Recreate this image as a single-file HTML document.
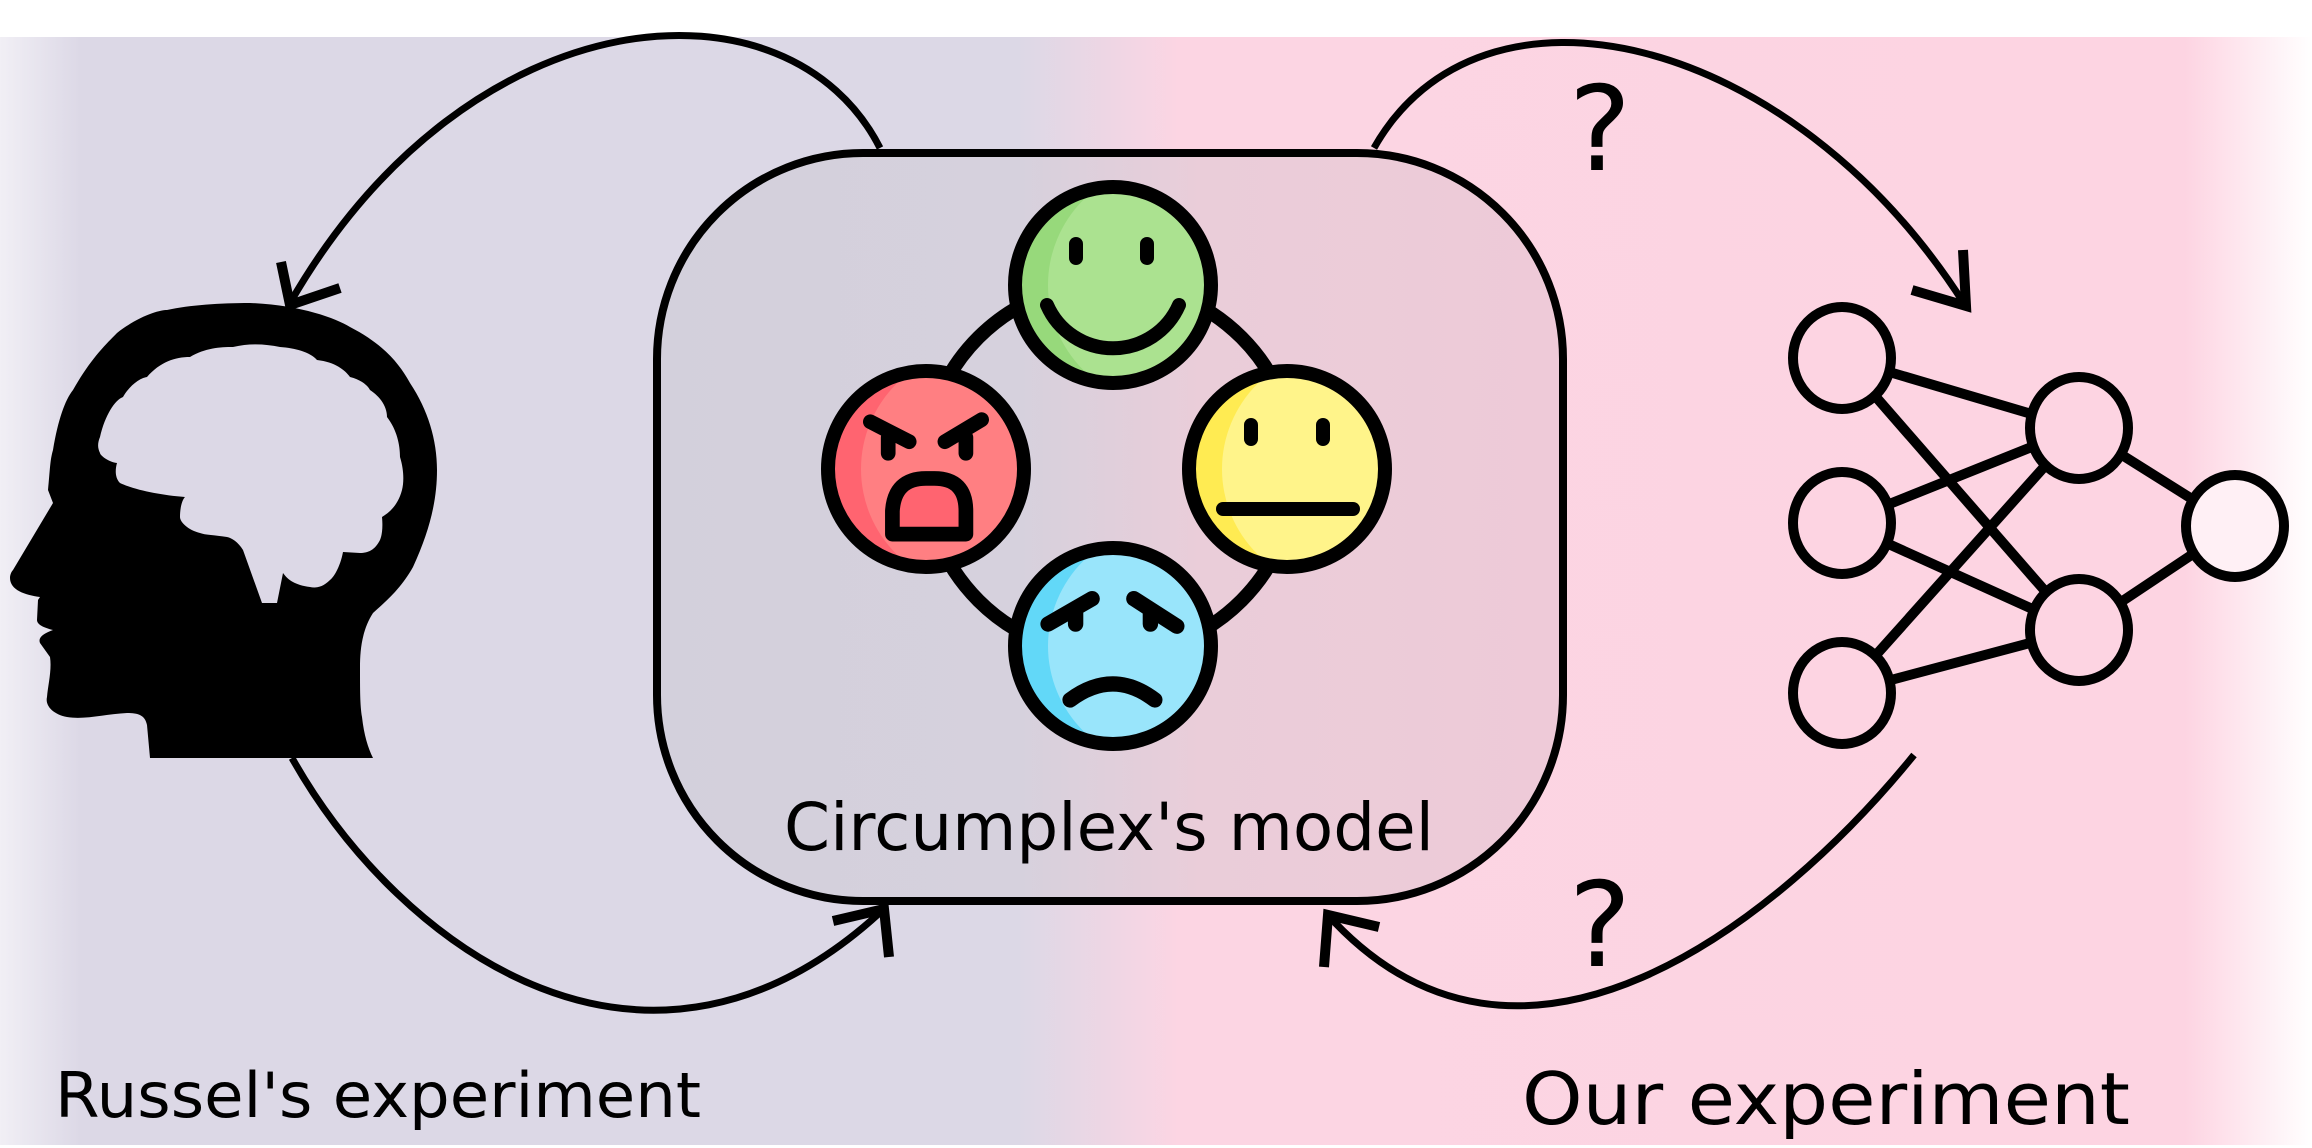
<!DOCTYPE html>
<html><head><meta charset="utf-8"><style>
html,body{margin:0;padding:0;background:#fff;}
svg{display:block;}
text{font-family:"DejaVu Sans","Liberation Sans",sans-serif;fill:#000;}
</style></head><body>
<svg width="2312" height="1148" viewBox="0 0 2312 1148" xmlns="http://www.w3.org/2000/svg">
<defs>
<linearGradient id="bg" x1="0" y1="0" x2="1" y2="0">
<stop offset="0" stop-color="#f1eff5"/>
<stop offset="0.035" stop-color="#dcd8e6"/>
<stop offset="0.44" stop-color="#dcd8e6"/>
<stop offset="0.51" stop-color="#fcd5e3"/>
<stop offset="0.945" stop-color="#fdd4e2"/>
<stop offset="1" stop-color="#ffffff"/>
</linearGradient>
<linearGradient id="boxg" x1="0" y1="0" x2="1" y2="0">
<stop offset="0" stop-color="#d3d0dc"/>
<stop offset="0.4" stop-color="#d6d1dd"/>
<stop offset="0.6" stop-color="#eacdd9"/>
<stop offset="1" stop-color="#eecad8"/>
</linearGradient>
<clipPath id="c"><circle cx="0" cy="0" r="98"/></clipPath>
</defs>
<rect x="0" y="37" width="2312" height="1108" fill="url(#bg)"/>

<!-- box -->
<rect x="657" y="153" width="906" height="748" rx="206" ry="206" fill="url(#boxg)" stroke="#000" stroke-width="8"/>

<!-- ring -->
<circle cx="1110" cy="469" r="186" fill="none" stroke="#000" stroke-width="14"/>

<g stroke="#000" stroke-width="14" stroke-linecap="round" stroke-linejoin="round">
<g transform="translate(1113,285)">
<g clip-path="url(#c)"><circle r="98" fill="#97d97b" stroke="none"/><circle cx="55" r="120" fill="#abe290" stroke="none"/></g>
<circle r="98" fill="none"/>
<line x1="-37" y1="-41" x2="-37" y2="-27"/><line x1="34" y1="-41" x2="34" y2="-27"/>
<path d="M-66,20 A72,72 0 0 0 66,20" fill="none"/>
</g>
<g transform="translate(926,469)">
<g clip-path="url(#c)"><circle r="98" fill="#ff6470" stroke="none"/><circle cx="55" r="120" fill="#ff7f82" stroke="none"/></g>
<circle r="98" fill="none"/>
<g transform="scale(1.05)">
<path d="M-53,-45 L-16,-26 M53,-47 L18,-26 M-36,-30 L-36,-15 M38,-30 L38,-15" fill="none"/>
<path d="M-32,62 L-32,40 Q-30,9 0,9 L8,9 Q38,9 38,40 L38,62 Z" fill="#ff6470"/>
</g>
</g>
<g transform="translate(1287,469)">
<g clip-path="url(#c)"><circle r="98" fill="#ffeb52" stroke="none"/><circle cx="55" r="120" fill="#fff48a" stroke="none"/></g>
<circle r="98" fill="none"/>
<line x1="-36" y1="-44" x2="-36" y2="-30"/><line x1="36" y1="-44" x2="36" y2="-30"/>
<line x1="-64" y1="40" x2="66" y2="40"/>
</g>
<g transform="translate(1113,646)">
<g clip-path="url(#c)"><circle r="98" fill="#62d8f8" stroke="none"/><circle cx="55" r="120" fill="#99e5fb" stroke="none"/></g>
<circle r="98" fill="none"/>
<g transform="scale(1.1)">
<path d="M-59,-20 L-19,-43 M19,-43 L58,-18 M-34,-30 L-34,-20 M34,-30 L34,-20" fill="none"/>
<path d="M-39,49 Q0,20 38,49" fill="none"/>
</g>
</g>
</g>

<text x="1109" y="850" font-size="66" text-anchor="middle" textLength="650" lengthAdjust="spacingAndGlyphs">Circumplex's model</text>

<!-- head -->
<path fill-rule="evenodd" fill="#000" d="M250,303 C300,305 335,318 350,327 C385,345 400,365 410,383 C428,410 437,440 437,470 C437,500 430,530 413,567 C400,590 385,602 373,613 C362,630 360,650 360,667 C360,690 360,705 362,717 C364,735 368,748 373,758 L150,758 L147,725 C145,715 138,713 127,713 C105,714 85,720 67,717 C52,714 45,705 47,697 C48,685 52,670 50,657 L40,643 C38,638 42,634 53,630 C45,628 37,625 37,620 L38,600 L40,597 C25,595 10,590 10,578 C10,574 12,571 13,570 L53,503 L48,490 C50,470 50,460 53,450 C58,420 65,400 73,390 C90,360 105,345 117,333 C140,315 160,310 167,310 C190,305 220,303 250,303 Z
M100,437 C105,415 115,400 123,397 C130,385 140,378 147,377 C160,362 175,357 190,357 C205,348 220,347 233,347 C250,343 265,344 280,347 C295,348 310,352 317,360 C335,362 345,370 350,377 C362,380 368,386 370,390 C382,398 387,408 387,417 C397,430 400,445 400,457 C404,470 404,482 402,490 C398,505 390,512 382,517 C383,528 382,535 380,540 C375,550 368,553 360,553 L343,552 C340,568 333,578 330,580 C322,588 315,588 310,587 C295,585 288,580 283,573 L277,603 L262,603 L243,550 C238,542 232,538 227,537 C215,535 205,535 200,533 C188,530 180,522 180,517 C180,508 182,500 185,497 C160,495 135,490 120,483 C115,478 115,470 117,463 C108,462 100,455 100,453 C97,447 98,442 100,437 Z"/>

<!-- arrows -->
<g fill="none" stroke="#000" stroke-width="7">
<path d="M880,148 C790,-30 470,-10 290,303"/>
<path d="M292,758 C400,950 650,1130 886,907"/>
<path d="M1374,148 C1480,-40 1790,30 1965,305"/>
<path d="M1914,755 C1780,920 1520,1130 1326,913"/>
</g>
<g fill="none" stroke="#000" stroke-width="10" stroke-linejoin="miter" stroke-miterlimit="10">
<polyline points="281,262 290,305 340,288"/>
<polyline points="833,921 884,909 889,957"/>
<polyline points="1963,250 1966,306 1912,290"/>
<polyline points="1379,927 1328,915 1324,967"/>
</g>

<text x="1600" y="170" font-size="118" text-anchor="middle">?</text>
<text x="1600" y="966" font-size="118" text-anchor="middle">?</text>

<!-- NN -->
<g stroke="#000" stroke-width="10" fill="none">
<line x1="1842" y1="358" x2="2079" y2="428"/>
<line x1="1842" y1="358" x2="2079" y2="630"/>
<line x1="1842" y1="523" x2="2079" y2="428"/>
<line x1="1842" y1="523" x2="2079" y2="630"/>
<line x1="1842" y1="693" x2="2079" y2="428"/>
<line x1="1842" y1="693" x2="2079" y2="630"/>
<line x1="2079" y1="428" x2="2235" y2="526"/>
<line x1="2079" y1="630" x2="2235" y2="526"/>
<g fill="#fdd4e2">
<ellipse cx="1842" cy="358" rx="49" ry="51"/>
<ellipse cx="1842" cy="523" rx="49" ry="51"/>
<ellipse cx="1842" cy="693" rx="49" ry="51"/>
<ellipse cx="2079" cy="428" rx="49" ry="51"/>
<ellipse cx="2079" cy="630" rx="49" ry="51"/>
<ellipse cx="2235" cy="526" rx="49" ry="51" fill="#fff0f5"/>
</g>
</g>

<text x="55" y="1117" font-size="62" textLength="646" lengthAdjust="spacingAndGlyphs">Russel's experiment</text>
<text x="1522" y="1124" font-size="72" textLength="608" lengthAdjust="spacingAndGlyphs">Our experiment</text>
</svg>
</body></html>
